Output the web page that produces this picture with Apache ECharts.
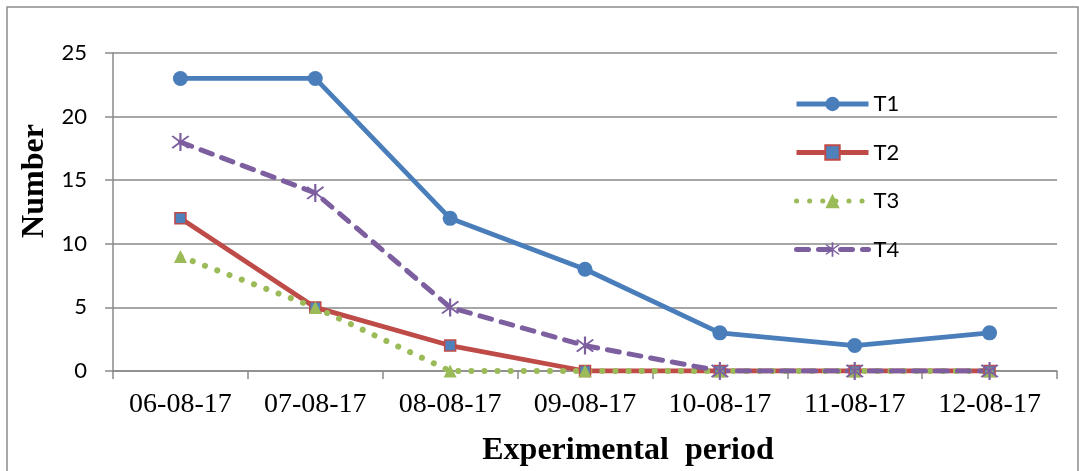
<!DOCTYPE html>
<html><head><meta charset="utf-8">
<script src="https://cdn.jsdelivr.net/npm/echarts@6/dist/echarts.min.js"></script>
<style>html,body{margin:0;padding:0;background:#fff}#c{width:1079px;height:471px}</style>
</head><body><div id="c"></div>
<script>
const categories = ['06-08-17','07-08-17','08-08-17','09-08-17','10-08-17','11-08-17','12-08-17'];
const T1 = [23,23,12,8,3,2,3];
const T2 = [12,5,2,0,0,0,0];
const T3 = [9,5,0,0,0,0,0];
const T4 = [18,14,5,2,0,0,0];
const yTicks = {min:0,max:25,interval:5};

const asterisk = 'path://M-0.9,-10 L0.9,-10 L0.9,10 L-0.9,10 Z M7.4,6.1 L6.1,7.4 L-7.4,-6.1 L-6.1,-7.4 Z M6.1,-7.4 L7.4,-6.1 L-6.1,7.4 L-7.4,6.1 Z';
const gray = '#8a8a8a';
const chart = echarts.init(document.getElementById('c'));
chart.setOption({
  animation:false,
  backgroundColor:'#fff',
  grid:{left:113,right:22,top:53,bottom:100},
  legend:{
    orient:'vertical', left:789, top:88, itemGap:26.5, itemWidth:72, itemHeight:18,
    lineStyle:{width:5},
    textStyle:{fontFamily:'Lato, "Open Sans", sans-serif', fontSize:22, color:'#000'},
    data:['T1','T2','T3','T4']
  },
  xAxis:{
    type:'category', data:categories, boundaryGap:true,
    axisLine:{lineStyle:{color:gray,width:1.5}},
    axisTick:{show:true,length:8,interval:0,lineStyle:{color:gray,width:1.5}},
    axisLabel:{margin:20,fontFamily:'"Liberation Serif", "Times New Roman", serif',fontSize:28,color:'#000',interval:0}
  },
  yAxis:{
    type:'value', min:yTicks.min, max:yTicks.max, interval:yTicks.interval,
    axisLine:{show:true,lineStyle:{color:gray,width:1.5}},
    axisTick:{show:true,length:8,lineStyle:{color:gray,width:1.5}},
    axisLabel:{margin:26,fontFamily:'Lato, "Open Sans", sans-serif',fontSize:22,color:'#000'},
    splitLine:{lineStyle:{color:gray,width:1.5}}
  },
  graphic:[
    {type:'rect',shape:{x:7,y:7,width:1071,height:480},style:{fill:'none',stroke:'#8c8c8c',lineWidth:1.5},silent:true},
    {type:'text',style:{text:'Experimental  period',font:'bold 32px "Liberation Serif", serif',fill:'#000',textAlign:'center',textVerticalAlign:'middle'},x:628,y:451},
    {type:'text',style:{text:'Number',font:'bold 32px "Liberation Serif", serif',fill:'#000',textAlign:'center',textVerticalAlign:'middle'},x:35,y:181,rotation:Math.PI/2}
  ],
  series:[
    {name:'T1',type:'line',data:T1,symbol:'circle',symbolSize:15,
     lineStyle:{color:'#4A7EBB',width:4.8},itemStyle:{color:'#4A7EBB'}},
    {name:'T2',type:'line',data:T2,symbol:'rect',symbolSize:11,
     lineStyle:{color:'#BE4B48',width:4.8},itemStyle:{color:'#4F81BD',borderColor:'#BE4B48',borderWidth:1.5}},
    {name:'T3',type:'line',data:T3,symbol:'triangle',symbolSize:13,
     lineStyle:{color:'#9BBB59',width:6,type:[0.1,13],cap:'round'},itemStyle:{color:'#9BBB59'}},
    {name:'T4',type:'line',data:T4,symbol:asterisk,symbolSize:18,
     lineStyle:{color:'#7D5FA0',width:5,type:[12,10],cap:'round'},itemStyle:{color:'#7D5FA0'}}
  ]
});
</script></body></html>
